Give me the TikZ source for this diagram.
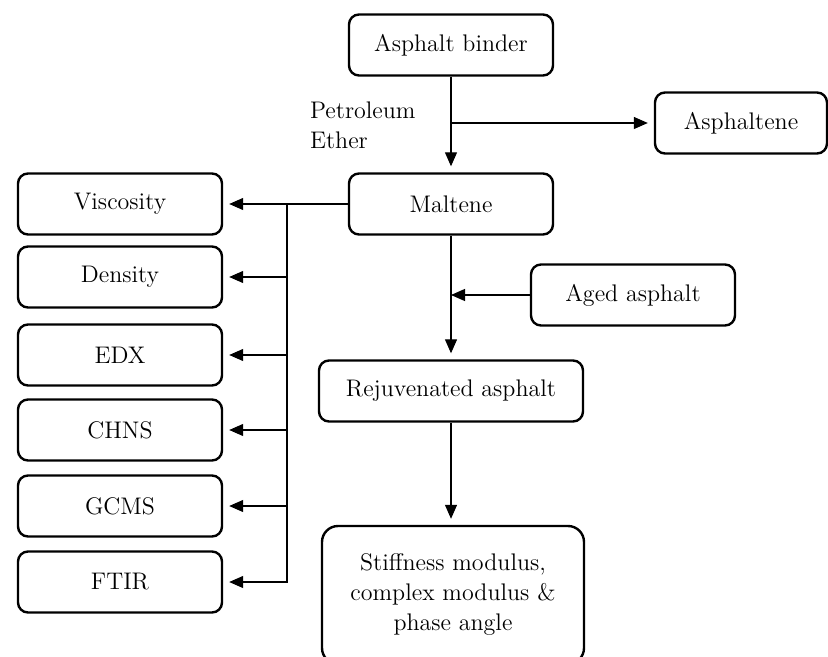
\documentclass[tikz,border=0pt]{standalone}
\usetikzlibrary{arrows.meta}
\begin{document}
\begin{tikzpicture}[x=0.5pt, y=-0.5pt]
        \tikzset{box/.style={draw, very thick, rounded corners=5pt, minimum width=102pt, minimum height=30.5pt, align=center, font=\fontsize{12}{15}\selectfont},
                 arr/.style={semithick, -{Triangle[length=7pt, width=6pt]}, shorten >=3pt}}
        \useasboundingbox (0, 0) rectangle (828, 657);
        \node [box] (bind) at (451, 45) {Asphalt binder};
        \node [box, minimum width=86pt] (asph) at (741, 123) {Asphaltene};
        \node [box] (malt) at (451, 204) {Maltene};
        \node [box] (visc) at (120, 204) {Viscosity};
        \node [box] (dens) at (120, 277) {Density};
        \node [box] (edx) at (120, 355) {EDX};
        \node [box] (chns) at (120, 430) {CHNS};
        \node [box] (gcms) at (120, 506) {GCMS};
        \node [box] (ftir) at (120, 582) {FTIR};
        \node [box] (aged) at (633, 295) {Aged asphalt};
        \node [box, minimum width=132pt] (rejuv) at (451, 391) {Rejuvenated asphalt};
        \node [box, minimum width=131pt, minimum height=69pt, rounded corners=8pt] (stiff) at (453, 595) {Stiffness modulus,\\complex modulus \&\\phase angle};
        \node [anchor=west, align=left, font=\fontsize{12}{15}\selectfont] (solv) at (303, 125) {Petroleum\\Ether};
        \draw[arr] (bind) -- (malt);
        \draw[arr] (bind.south |- asph.west) -- (asph.west);
        \coordinate (trunk) at (287, 204);
        \draw[semithick] (malt.west) -- (trunk);
        \foreach \n in {visc, dens, edx, chns, gcms, ftir}
            \draw[arr] (trunk) |- (\n.east);
        \draw[arr] (malt) -- (rejuv);
        \draw[arr, shorten >=0pt] (aged.west) -- (malt.south |- aged.west);
        \draw[arr] (rejuv) -- (rejuv.south |- stiff.north);
\end{tikzpicture}
\end{document}
